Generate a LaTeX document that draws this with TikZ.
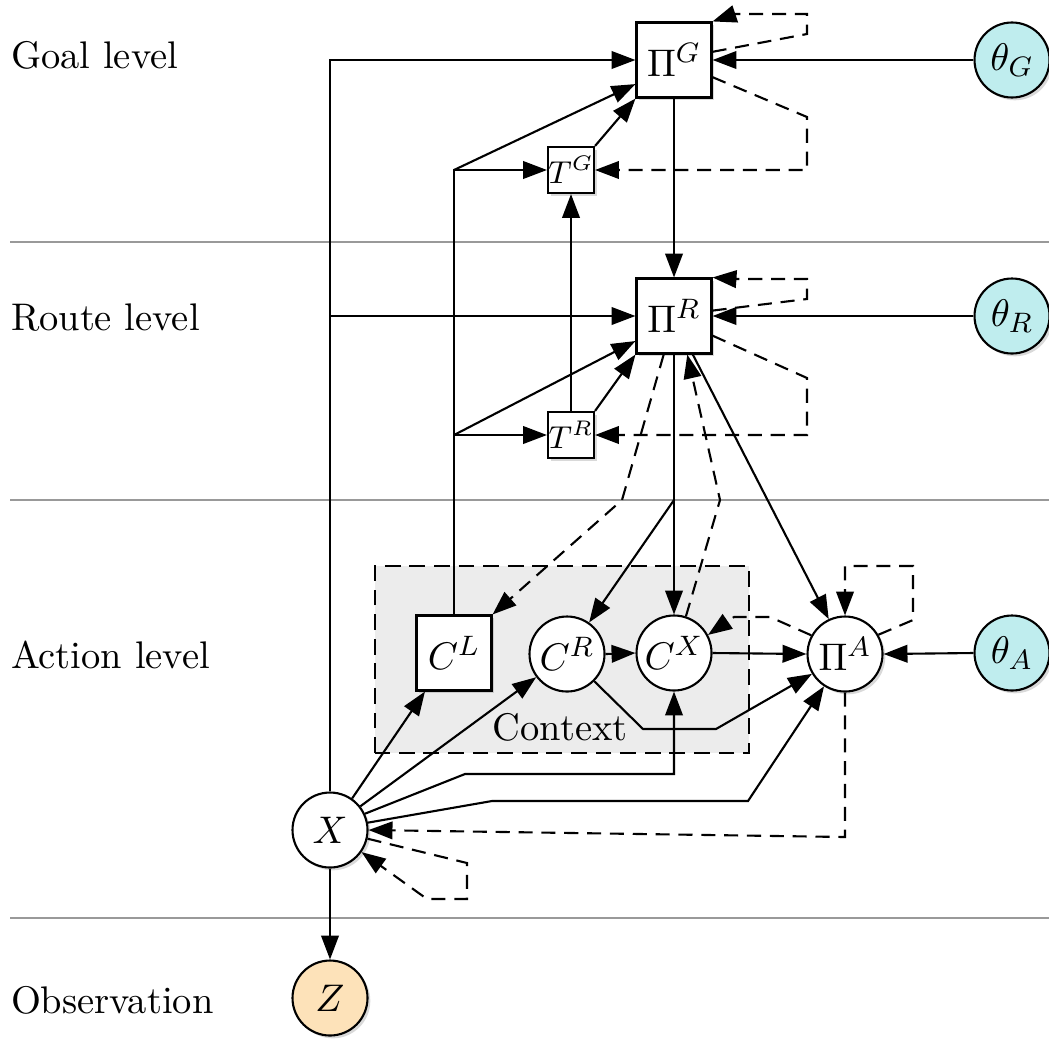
\documentclass[tikz,border=0pt]{standalone}
\usepackage{amsmath}
\usepackage{tikz}
\usetikzlibrary{arrows.meta,shadows}

\definecolor{paramcol}{HTML}{BFEDEE}
\definecolor{obscol}{HTML}{FDE2B9}

\begin{document}
\begin{tikzpicture}[
		>={Triangle[length=6.8pt,width=5pt]},
		every node/.style={font=\fontsize{10.95}{13}\selectfont},
		line width=0.6pt,
		shadowed/.style={drop shadow={opacity=0.3,shadow xshift=0.8pt,shadow yshift=-0.8pt}},
		policy/.style={draw,fill=white,rectangle,minimum size=0.75cm,inner sep=0pt,shadowed},
		term/.style={draw,fill=white,rectangle,minimum size=0.46cm,inner sep=0pt,shadowed,font=\fontsize{9}{10}\selectfont},
		var/.style={draw,fill=white,circle,minimum size=0.75cm,inner sep=0pt},
		param/.style={var,fill=paramcol,shadowed},
		obs/.style={var,fill=obscol,shadowed},
		fb/.style={->,dash pattern=on 4pt off 2.5pt},
		divider/.style={draw=gray!80,line width=0.8pt},
		lvl/.style={anchor=west,inner sep=0pt}
	]
				\useasboundingbox (0,0) rectangle (10.49,10.38);
				
				\draw[divider] (0.10,7.96) -- (10.49,7.96);
				\draw[divider] (0.10,5.38) -- (10.49,5.38);
				\draw[divider] (0.10,1.20) -- (10.49,1.20);
				
				\node[lvl] (lgoal) at (0.10,9.83) {Goal level};
				\node[lvl] (lroute) at (0.10,7.20) {Route level};
				\node[lvl] (laction) at (0.10,3.83) {Action level};
				\node[lvl] (lobs) at (0.10,0.38) {Observation};
				
				\draw[dash pattern=on 4.5pt off 2.5pt,fill=gray!15] (3.75,2.85) rectangle (7.49,4.72);
				\node (ctx) at (5.60,3.11) {Context};
				
				\node[policy] (PiG) at (6.74,9.78) {$\Pi^G$};
				\node[param] (thG) at (10.12,9.78) {$\theta_G$};
				\node[term] (TG) at (5.71,8.68) {$T^G$};
				
				\node[policy] (PiR) at (6.74,7.22) {$\Pi^R$};
				\node[param] (thR) at (10.12,7.22) {$\theta_R$};
				\node[term] (TR) at (5.71,6.03) {$T^R$};
				
				\node[policy,shadowed/.style={}] (CL) at (4.54,3.85) {$C^L$};
				\node[var] (CR) at (5.67,3.84) {$C^R$};
				\node[var] (CX) at (6.74,3.85) {$C^X$};
				\node[var,shadowed] (PiA) at (8.45,3.84) {$\Pi^A$};
				\node[param] (thA) at (10.12,3.85) {$\theta_A$};
				
				\node[var,shadowed] (X) at (3.30,2.08) {$X$};
				\node[obs] (Z) at (3.30,0.40) {$Z$};
				
				% goal level
				\draw[->] (X.north) |- (PiG.west);
				\draw[->] (X.north |- PiR.west) -- (PiR.west);
				\draw[->] (CL.north) |- (TG.west);
				\draw[->] (4.54,8.68) -- (PiG.212);
				\draw[->] (TG.north east) -- (PiG.south west);
				\draw[->] (thG.west) -- (PiG.east);
				\draw[->] (PiG.south) -- (PiR.north);
				\draw[fb] (PiG.12) -- (8.07,10.04) -- (8.07,10.24) -- (7.35,10.24) -- (PiG.north east);
				\draw[fb] (PiG.-24) -- (8.07,9.21) -- (8.07,8.68) -- (TG.east);
				
				% route level
				\draw[->] (4.54,6.03) -- (TR.west);
				\draw[->] (4.54,6.03) -- (PiR.213);
				\draw[->] (TR.north east) -- (PiR.south west);
				\draw[->] (TR.north) -- (TG.south);
				\draw[->] (thR.west) -- (PiR.east);
				\draw[fb] (PiR.8) -- (8.07,7.39) -- (8.07,7.59) -- (7.35,7.59) -- (PiR.north east);
				\draw[fb] (PiR.-27) -- (8.07,6.60) -- (8.07,6.03) -- (TR.east);
				\draw[fb] (PiR.-105) -- (6.22,5.38) -- (CL.north east);
				\draw[->] (PiR.south) -- (CX.north);
				\draw[->] (6.74,5.38) -- (CR.55);
				\draw[fb] (CX.72) -- (7.20,5.38) -- (PiR.-71);
				\draw[->] (PiR.-64) -- (PiA.115);
				
				% action level
				\draw[->] (CR.east) -- (CX.west);
				\draw[->] (CX.east) -- (PiA.west);
				\draw[->] (CR.-45) -- (6.43,3.09) -- (7.16,3.09) -- (PiA.211);
				\draw[->] (thA.west) -- (PiA.east);
				\draw[fb] (PiA.30) -- (9.13,4.18) -- (9.13,4.72) -- (PiA.north |- 0,4.72) -- (PiA.north);
				\draw[fb] (PiA.151) -- (7.70,4.21) -- (7.34,4.21) -- (CX.28);
				
				\draw[->] (X.55) -- (CL.-127);
				\draw[->] (X.38) -- (CR.217);
				\draw[->] (X.25) -- (4.65,2.64) -| (CX.south);
				\draw[->] (X.11) -- (4.92,2.37) -- (7.48,2.37) -- (PiA.237);
				\draw[fb] (PiA.south) -- (8.45,2.01) -- (X.east);
				\draw[fb] (X.-13) -- (4.67,1.75) -- (4.67,1.39) -- (4.27,1.39) -- (X.-35);
				
				% observation
				\draw[->] (X.south) -- (Z.north);
			\end{tikzpicture}
\end{document}
